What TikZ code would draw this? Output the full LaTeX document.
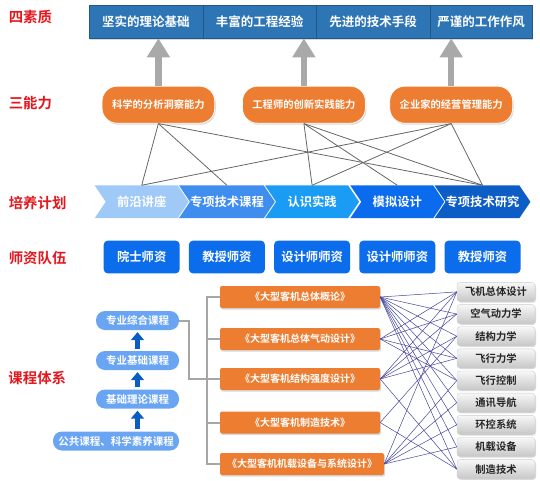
\documentclass[tikz,border=0pt]{standalone}
\usepackage{fontspec}
\setmainfont{Noto Sans CJK SC}[BoldFont={Noto Sans CJK SC Bold}]
\usepackage{tikz}
\usetikzlibrary{matrix, positioning, shapes.symbols, arrows.meta, shadows}

\definecolor{topblue}{HTML}{2E75B6}
\definecolor{orangeA}{HTML}{ED7D31}
\definecolor{liftgray}{HTML}{A9A9A9}
\definecolor{redA}{HTML}{E5171E}
\definecolor{planA}{HTML}{9FC9F7}
\definecolor{planB}{HTML}{3F8DEE}
\definecolor{planC}{HTML}{1A9CF4}
\definecolor{planD}{HTML}{0B6BEE}
\definecolor{planE}{HTML}{0C5DC6}
\definecolor{staffblue}{HTML}{0B6CEC}
\definecolor{baseblue}{HTML}{6AA5F4}
\definecolor{arrowblue}{HTML}{0A5DC2}
\definecolor{linkblue}{HTML}{45459E}

\begin{document}
\begin{tikzpicture}
[x=1pt, y=-1pt,
quality/.style={rectangle, draw=topblue!75!black, fill=topblue, text=white, inner sep=0pt, minimum height=32.7pt, minimum width=113.6pt, font=\bfseries\fontsize{12.5}{14}\selectfont, drop shadow={shadow xshift=1pt, shadow yshift=-1.5pt, opacity=.3}},
space/.style={matrix of nodes, row sep=-\pgflinewidth, column sep=-\pgflinewidth},
ability/.style={rectangle, rounded corners=15pt, fill=orangeA, draw=white, line width=.8pt, text=white, inner xsep=10pt, minimum height=37pt, font=\bfseries\fontsize{10.3}{12}\selectfont, drop shadow={shadow xshift=1pt, shadow yshift=-1.5pt, opacity=.3}},
lift/.style={draw=liftgray, line width=6.5pt, -{Triangle[width=22pt, length=19pt]}},
tie/.style={draw=black!60, line width=.8pt},
plan/.style={signal, signal to=east, signal from=west, signal pointer angle=112, inner sep=0pt, minimum width=94pt, minimum height=32.7pt, text=white, font=\bfseries\fontsize{12.3}{14}\selectfont},
staff/.style={rectangle, rounded corners=4pt, fill=staffblue, text=white, inner sep=0pt, minimum width=76pt, minimum height=32.7pt, font=\bfseries\fontsize{12.3}{14}\selectfont},
rowname/.style={anchor=west, inner sep=0pt, text=redA, font=\bfseries\fontsize{14.4}{16}\selectfont},
base/.style={rectangle, rounded corners=9pt, fill=baseblue, text=white, inner sep=0pt, minimum width=83pt, minimum height=19pt, font=\bfseries\fontsize{10.5}{12}\selectfont},
rise/.style={draw=arrowblue, line width=5pt, -{Triangle[width=13pt, length=8pt]}, shorten <=2pt, shorten >=2pt},
bracket/.style={draw=black!35, line width=2pt},
course/.style={rectangle, rounded corners=2pt, fill=orangeA, text=white, inner sep=0pt, minimum height=22pt, font=\bfseries\fontsize{10}{12}\selectfont, drop shadow={shadow xshift=1pt, shadow yshift=-1.5pt, opacity=.3}},
subject/.style={rectangle, rounded corners=3pt, draw=black!20, top color=black!3, bottom color=black!22, text=black!85, inner sep=0pt, minimum width=78pt, minimum height=19pt, font=\bfseries\fontsize{10.3}{12}\selectfont, drop shadow={shadow xshift=1pt, shadow yshift=-1.2pt, opacity=.3}},
link/.style={draw=linkblue, line width=.5pt}]

\useasboundingbox (0,0) rectangle (540,481);

% row names
\node[rowname] (n-quality) at (8.6,17.2) {四素质};
\node[rowname] (n-ability) at (8.6,103) {三能力};
\node[rowname] (n-plan) at (8.6,202.7) {培养计划};
\node[rowname] (n-staff) at (8.6,257.8) {师资队伍};
\node[rowname] (n-course) at (8.3,378) {课程体系};

% four qualities
\matrix (top) [space, anchor=north west,
column 1/.style={nodes={quality}},
column 2/.style={nodes={quality}},
column 3/.style={nodes={quality}},
column 4/.style={nodes={quality, minimum width=102.3pt}},
] at (85.4,1.7) {
坚实的理论基础 & 丰富的工程经验 & 先进的技术手段 & 严谨的工作作风 \\
};

% three abilities
\node[ability] (a1) at (158.4,104.7) {科学的分析洞察能力};
\node[ability] (a2) at (303.9,104.7) {工程师的创新实践能力};
\node[ability] (a3) at (451.2,104.7) {企业家的经营管理能力};

\draw[lift] (a1.north) -- (a1.north |- top-1-1.south);
\draw[lift] (a2.north) -- (a2.north |- top-1-1.south);
\draw[lift] (a3.north) -- (a3.north |- top-1-1.south);

% training plan and staff
\foreach \n/\c/\p/\s in {1/planA/前沿讲座/院士师资, 2/planB/专项技术课程/教授师资, 3/planC/认识实践/设计师师资, 4/planD/模拟设计/设计师师资, 5/planE/专项技术研究/教授师资}{
  \node[plan, fill=\c] (p\n) at ({141.7+85.2*(\n-1)},201.8) {\p};
  \node[staff] (s\n) at ({141.7+85.2*(\n-1)},257) {\s};
}

\foreach \i/\j in {1/1,1/2,1/5,2/3,2/4,2/5,3/1,3/3,3/5}
  \draw[tie] (a\i.south) -- (p\j.north);

% course system
\node[base] (c1) at (137.5,320.5) {专业综合课程};
\node[base] (c2) at (137.5,360.5) {专业基础课程};
\node[base] (c3) at (137.5,399) {基础理论课程};
\node[base, minimum width=126pt] (c4) at (116,441) {公共课程、科学素养课程};

\draw[rise] (c3.south |- c4.north) -- (c3.south);
\draw[rise] (c3.north) -- (c2.south);
\draw[rise] (c2.north) -- (c1.south);

\foreach \n/\y/\w/\t in {1/297/160/《大型客机总体概论》, 2/339/160/《大型客机总体气动设计》, 3/379/160/《大型客机结构强度设计》, 4/422.5/160/《大型客机制造技术》, 5/464/164/《大型客机机载设备与系统设计》}
  \node[course, minimum width=\w pt] (b\n) at ({220+\w/2},\y) {\t};

\draw[bracket] (c1.east) -- ++(10,0) |- (b3.west);
\draw[bracket] (b1.west) -- ++(-13,0) |- (b5.west);
\draw[bracket] (b2.west) -- ++(-13,0);
\draw[bracket] (b4.west) -- ++(-13,0);

\matrix (subj) [matrix of nodes, row sep=2.75pt, nodes={subject}] at (496,380.5) {
飞机总体设计 \\ 空气动力学 \\ 结构力学 \\ 飞行力学 \\ 飞行控制 \\ 通讯导航 \\ 环控系统 \\ 机载设备 \\ 制造技术 \\
};

\foreach \i/\k in {1/1,1/2,1/3,1/4,1/5,1/6,1/7,1/8,1/9,2/1,2/2,2/4,2/5,3/1,3/2,3/3,3/4,3/9,4/3,4/9,5/1,5/5,5/6,5/7,5/8}
  \draw[link] (b\i.east) -- (subj-\k-1.west);

\end{tikzpicture}
\end{document}
